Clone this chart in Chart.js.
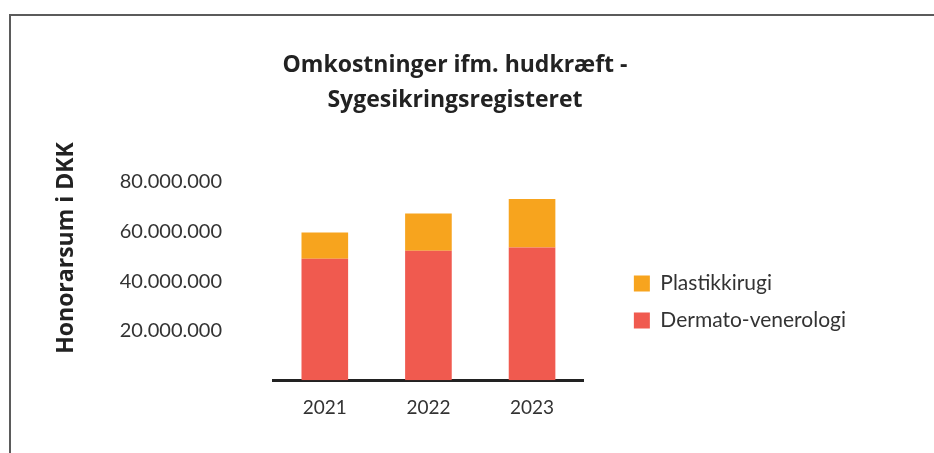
<!DOCTYPE html>
<html>
<head>
<meta charset="utf-8">
<script src="https://cdn.jsdelivr.net/npm/chart.js@4.4.1/dist/chart.umd.min.js"></script>
<style>
  html, body { margin: 0; padding: 0; background: #fff; }
  #wrap { position: relative; width: 934px; height: 453px; overflow: hidden; }
  #frame { position: absolute; left: 9px; top: 14px; width: 1000px; height: 1000px;
           border-top: 2px solid #5b5b5b; border-left: 2px solid #5b5b5b; }
  canvas { position: absolute; left: 0; top: 0; }
</style>
</head>
<body>
<div id="wrap">
  <div id="frame"></div>
  <canvas id="myChart" width="934" height="453"></canvas>
</div>
<script>
// data
var years = ["2021", "2022", "2023"];
var dermato = [49000000, 52200000, 53500000];
var plastik = [10600000, 15100000, 19600000];
var seriesNames = ["Dermato-venerologi", "Plastikkirugi"];
var chartTitle = ["Omkostninger ifm. hudkræft -", "Sygesikringsregisteret"];
var yTitle = "Honorarsum i DKK";

function formatDK(v) {
    return String(Math.round(v)).replace(/\B(?=(\d{3})+(?!\d))/g, ".");
}

// y axis title sits higher than the plot centre, so draw it by hand
var yTitlePlugin = {
    id: "yTitle",
    afterInit: function (chart) {
        // let the right-hand legend be as wide as its labels
        var legend = chart.legend;
        var fit = legend.fit;
        legend.fit = function () {
            this.maxWidth = 400;
            fit.call(this);
        };
    },
    afterDraw: function (chart) {
        var ctx = chart.ctx;
        ctx.save();
        ctx.translate(66, 248);
        ctx.rotate(-Math.PI / 2);
        ctx.font = "bold 23px 'Open Sans'";
        ctx.fillStyle = "#222222";
        ctx.textAlign = "center";
        ctx.textBaseline = "middle";
        ctx.fillText(yTitle, 0, 0);
        ctx.restore();
    },
};

document.addEventListener("DOMContentLoaded", function () {
    var ctx = document.getElementById("myChart").getContext("2d");
    var myChart = new Chart(ctx, {
        type: "bar",
        data: {
            labels: years,
            datasets: [
                {
                    label: seriesNames[0],
                    data: dermato,
                    backgroundColor: "#F05A4F",
                    barPercentage: 0.45,
                    categoryPercentage: 1,
                },
                {
                    label: seriesNames[1],
                    data: plastik,
                    backgroundColor: "#F7A41E",
                    barPercentage: 0.45,
                    categoryPercentage: 1,
                },
            ],
        },
        options: {
            responsive: false,
            animation: false,
            devicePixelRatio: 1,
            layout: {
                padding: { left: 54, right: 78, top: 0, bottom: 18 },
            },
            plugins: {
                title: {
                    display: true,
                    text: chartTitle,
                    color: "#222222",
                    font: { family: "'Open Sans'", size: 23, weight: "bold", lineHeight: 1.52 },
                    padding: { top: 48, bottom: 64 },
                },
                legend: {
                    display: true,
                    position: "right",
                    fullSize: false,
                    reverse: true,
                    title: { display: true, text: "", padding: 0, font: { size: 35 } },
                    labels: {
                        boxWidth: 16,
                        boxHeight: 16,
                        padding: 16,
                        color: "#333333",
                        font: { family: "Lato", size: 21 },
                    },
                },
                tooltip: { enabled: false },
            },
            scales: {
                x: {
                    stacked: true,
                    grid: { display: false, drawTicks: false },
                    border: { display: true, color: "#222222", width: 3 },
                    ticks: {
                        color: "#333333",
                        padding: 16,
                        font: { family: "Lato", size: 19 },
                    },
                },
                y: {
                    stacked: true,
                    min: 0,
                    max: 80000000,
                    grid: { display: false, drawTicks: false },
                    border: { display: false },
                    ticks: {
                        stepSize: 20000000,
                        color: "#333333",
                        padding: 51,
                        font: { family: "Lato", size: 20 },
                        callback: function (value) {
                            return value === 0 ? null : formatDK(value);
                        },
                    },
                    afterFit: function (scale) {
                        scale.width = 219;
                    },
                },
                gap: {
                    type: "linear",
                    axis: "y",
                    position: "right",
                    display: true,
                    grid: { display: false, drawTicks: false },
                    border: { display: false },
                    ticks: { display: false },
                    afterFit: function (scale) {
                        scale.width = 34;
                    },
                },
            },
        },
        plugins: [yTitlePlugin],
    });
});
</script>
</body>
</html>
